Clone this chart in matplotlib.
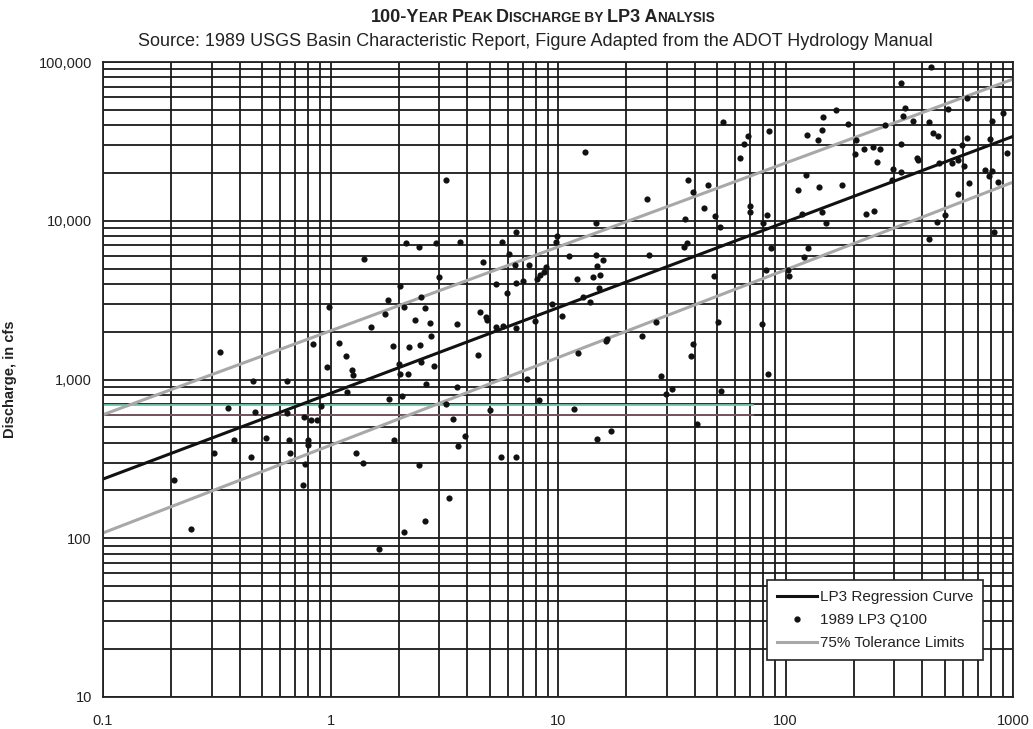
import matplotlib
matplotlib.use("Agg")
import matplotlib.pyplot as plt
from matplotlib.ticker import FixedLocator, FixedFormatter, NullFormatter
from matplotlib.offsetbox import TextArea, HPacker, AnchoredOffsetbox
from matplotlib.lines import Line2D
import numpy as np

plt.rcParams['font.family'] = ['Liberation Sans', 'DejaVu Sans']

# ---- data ----
area_x = [0.326, 0.84, 0.967, 0.456, 0.645, 0.355, 0.468, 0.645, 0.763, 0.823, 0.868, 0.91,
          0.376, 0.518, 0.656, 0.795, 0.795, 0.307, 0.445, 0.667, 0.77, 0.755, 0.205, 0.244, 0.98,
          1.088, 1.17, 1.237, 1.25, 1.18, 1.873, 2.22, 2.48, 2.76, 2.01, 2.49, 2.84, 2.02, 2.19,
          4.46, 2.64, 1.81, 2.07, 3.59, 3.21, 7.34, 8.21, 5.05, 3.47, 3.9, 3.63, 1.9, 1.30, 1.39,
          2.44, 5.63, 6.57, 3.33, 2.61, 2.11, 1.63,
          3.21, 1.41, 2.15, 2.44, 2.9, 3.70, 5.68, 6.55, 6.12, 9.78, 4.67, 6.44, 7.42, 8.32, 8.64,
          8.87, 8.1, 7.03, 6.55, 5.33, 5.98, 2.99, 2.02, 2.49, 1.79, 1.73, 2.11, 2.61, 2.35, 2.75,
          3.58, 4.56, 4.82, 4.86, 1.51, 5.33, 5.74, 6.55, 7.94, 9.43, 9.93,
          13.1, 14.7, 11.2, 14.7, 15.7, 14.9, 15.3, 14.3, 12.1, 15.1, 12.9, 13.8, 10.4, 24.7, 25.0,
          37.1, 39.3, 45.6, 43.8, 48.8, 36.2, 51.5, 37.0, 35.7, 48.4, 53.3, 68.6, 65.8, 62.8, 84.8,
          69.7, 69.7, 83.3, 80.0, 86.2, 81.7, 26.9, 50.5, 79.2, 103, 104,
          12.2, 16.2, 16.5, 23.4, 39.3, 38.6, 28.3, 31.8, 29.7, 51.8, 84.0, 40.9, 11.7, 17.1, 14.9,
          438, 323, 629, 334, 330, 362, 519, 427, 444, 466, 323, 166, 146, 144, 188, 124, 139, 274,
          205, 202, 222, 243, 259, 253, 297, 321, 294, 378, 383, 475, 546, 540, 572, 612, 594, 629,
          810, 902, 796, 944, 753, 810, 784, 861, 642, 576, 501, 464, 427, 829, 244, 227, 123, 113,
          140, 177, 118, 145, 151, 125, 120]
q100 = [1490, 1670, 1195, 975, 985, 663, 620, 611, 580, 555, 558, 685,
        415, 430, 413, 413, 384, 345, 326, 345, 294, 218, 234, 115, 2850,
        1703, 1416, 1140, 1075, 837, 1622, 1607, 1645, 1893, 1256, 1285, 1225, 1086, 1086,
        1437, 940, 759, 785, 900, 697, 1010, 741, 641, 565, 443, 380, 413, 342, 299,
        288, 324, 324, 180, 129, 110, 86,
        18100, 5780, 7260, 6850, 7260, 7390, 7370, 8550, 6150, 7370, 5460, 5300, 5250, 4580, 4760,
        5100, 4320, 4190, 4030, 4010, 3520, 4410, 3890, 3330, 3190, 2590, 2850, 2830, 2380, 2260,
        2245, 2660, 2480, 2360, 2140, 2140, 2160, 2120, 2320, 3010, 8000,
        27000, 9620, 5990, 6120, 5640, 5170, 4560, 4410, 4300, 3780, 3300, 3070, 2510, 13700, 6120,
        18000, 15100, 16700, 12100, 10700, 10300, 9160, 7190, 6850, 4470, 41800, 34100, 30500, 24800, 36500,
        12400, 11400, 10900, 9700, 6750, 4860, 2290, 2290, 2230, 4880, 4490,
        1470, 1740, 1800, 1870, 1680, 1400, 1055, 873, 812, 844, 1086, 528, 656, 472, 423,
        93300, 73300, 59200, 51400, 45600, 42400, 50900, 41800, 35500, 34100, 30500, 50200, 44900, 37400,
        40800, 34600, 32200, 40200, 32200, 26300, 28400, 29200, 28500, 23400, 21300, 20200, 18000, 24800,
        24000, 23200, 27400, 23000, 24000, 22000, 30100, 33100, 42400, 47400, 32900, 26800, 21000, 20500,
        19100, 17500, 17200, 14800, 10900, 9840, 7620, 8480, 11500, 11100, 19500, 15700, 16400, 16800,
        11100, 11400, 9700, 6750, 5890]

regression_x = [0.1, 1000]
regression_q = [236, 34000]
tol_upper_x = [0.1, 1000]
tol_upper_q = [600, 78000]
tol_lower_x = [0.1, 1000]
tol_lower_q = [108, 17500]

green_line_x = [0.1, 72]
green_line_q = [690, 690]
maroon_line_x = [0.1, 72]
maroon_line_q = [600, 600]

x_ticks = [0.1, 1, 10, 100, 1000]
x_tick_labels = ["0.1", "1", "10", "100", "1000"]
y_ticks = [10, 100, 1000, 10000, 100000]
y_tick_labels = ["10", "100", "1,000", "10,000", "100,000"]

title_segments = [("100-Y", True), ("EAR ", False), ("P", True), ("EAK ", False), ("D", True),
                  ("ISCHARGE BY ", False), ("LP3 A", True), ("NALYSIS", False)]
subtitle = "Source: 1989 USGS Basin Characteristic Report, Figure Adapted from the ADOT Hydrology Manual"
ylabel = "Discharge, in cfs"
legend_labels = ["LP3 Regression Curve", "1989 LP3 Q100", "75% Tolerance Limits"]

# ---- figure ----
fig = plt.figure(figsize=(10.33, 7.29), dpi=100)
ax = fig.add_axes([103/1033, 1 - 697/729, 910/1033, 635/729])
ax.set_xscale('log')
ax.set_yscale('log')
ax.set_xlim(0.1, 1000)
ax.set_ylim(10, 100000)

# grid: every 1..9 per decade
minor_x = [m * 10.0**e for e in range(-1, 3) for m in range(2, 10)]
minor_y = [m * 10.0**e for e in range(1, 5) for m in range(2, 10)]
ax.xaxis.set_major_locator(FixedLocator(x_ticks))
ax.xaxis.set_major_formatter(FixedFormatter(x_tick_labels))
ax.yaxis.set_major_locator(FixedLocator(y_ticks))
ax.yaxis.set_major_formatter(FixedFormatter(y_tick_labels))
ax.xaxis.set_minor_locator(FixedLocator(minor_x))
ax.yaxis.set_minor_locator(FixedLocator(minor_y))
ax.xaxis.set_minor_formatter(NullFormatter())
ax.yaxis.set_minor_formatter(NullFormatter())
ax.grid(True, which='both', color='#1a1a1a', linewidth=1.3, zorder=0)
ax.tick_params(which='both', length=0, labelsize=10.5, colors='#222222')
ax.tick_params(axis='x', pad=12)
ax.tick_params(axis='y', pad=8)
ax.set_axisbelow(True)
for s in ax.spines.values():
    s.set_color('#222222')
    s.set_linewidth(1.3)

ax.plot(green_line_x, green_line_q, color='#6cc9a8', lw=1.3, zorder=1)
ax.plot(maroon_line_x, maroon_line_q, color='#7a5a66', lw=1.3, zorder=1)

ax.plot(tol_upper_x, tol_upper_q, color='#a8a8a8', lw=2.2, zorder=2)
ax.plot(tol_lower_x, tol_lower_q, color='#a8a8a8', lw=2.2, zorder=2)
ax.plot(regression_x, regression_q, color='#111111', lw=2.2, zorder=3)
ax.scatter(area_x, q100, s=20, color='#111111', zorder=4, linewidths=0)

ax.set_ylabel(ylabel, fontsize=10.5, fontweight='bold', color='#222222')
ax.yaxis.set_label_coords(-0.094, 0.5)

handles = [Line2D([], [], color='#111111', lw=2.2),
           Line2D([], [], color='#111111', marker='o', ls='none', markersize=3.5),
           Line2D([], [], color='#a8a8a8', lw=2.2)]
leg = ax.legend(handles, legend_labels, loc='lower right', bbox_to_anchor=(0.967, 0.058),
                fontsize=11, frameon=True, fancybox=False, framealpha=1, edgecolor='#222222',
                handlelength=2.6, handletextpad=0.2, borderpad=0.65, labelspacing=0.6,
                borderaxespad=0)
leg.get_frame().set_linewidth(1.2)
for t in leg.get_texts():
    t.set_color('#222222')

# small-caps style title
areas = [TextArea(txt, textprops=dict(fontsize=13 if big else 9.8, fontweight='bold', color='#222222'))
         for txt, big in title_segments]
pack = HPacker(children=areas, align='baseline', pad=0, sep=0)
ab = AnchoredOffsetbox(loc='center', child=pack, pad=0, frameon=False,
                       bbox_to_anchor=(543/1033, 1 - 17/729), bbox_transform=fig.transFigure,
                       borderpad=0)
fig.add_artist(ab)
fig.text(535/1033, 1 - 42/729, subtitle, ha='center', va='center', fontsize=13, color='#222222')

fig.savefig('out.png', dpi=100)
